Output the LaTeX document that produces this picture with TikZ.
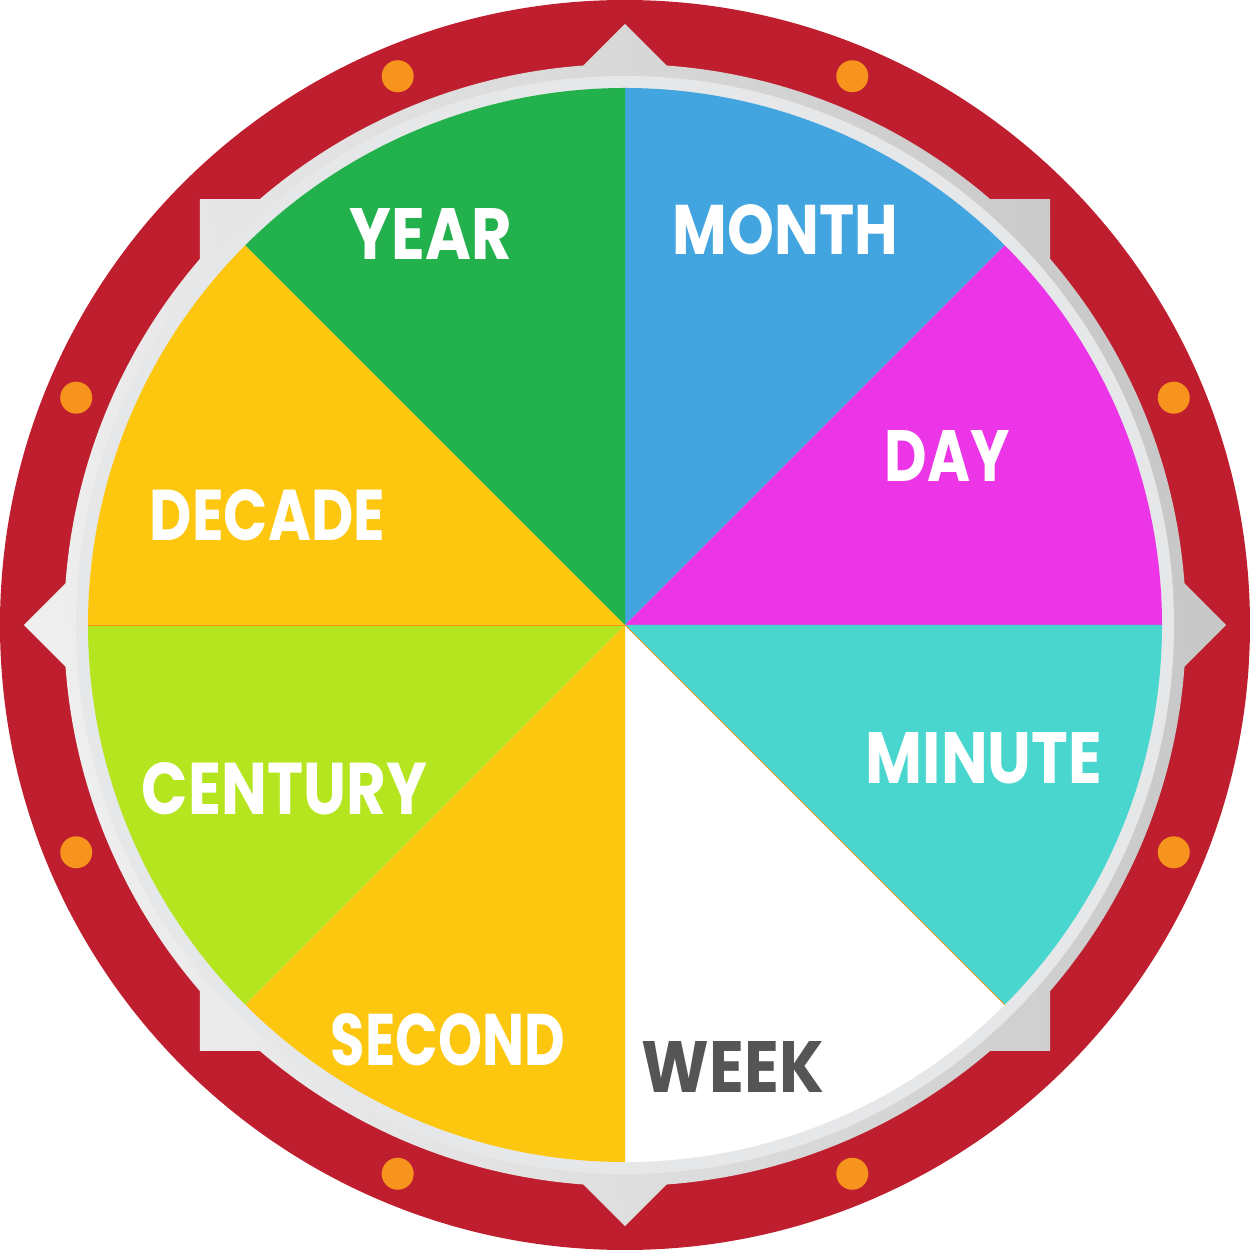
\documentclass[tikz,border=0pt]{standalone}
\usepackage{fontspec}
\setmainfont{Poppins}
\usepackage{graphicx}
\definecolor{ringred}{HTML}{BE1E2D}
\definecolor{dotorange}{HTML}{F7941D}
\definecolor{ringlight}{HTML}{F0F0F0}
\definecolor{ringdark}{HTML}{C6C6C6}
\definecolor{bandgrey}{HTML}{E6E7E9}
\definecolor{cmonth}{HTML}{42A5E0}
\definecolor{cday}{HTML}{EB35E6}
\definecolor{cminute}{HTML}{48D6CE}
\definecolor{cweek}{HTML}{FFFFFF}
\definecolor{csecond}{HTML}{FDC70F}
\definecolor{ccentury}{HTML}{B5E51E}
\definecolor{cdecade}{HTML}{FDC70F}
\definecolor{cyear}{HTML}{23B14D}
\definecolor{weektext}{HTML}{555555}
\newcommand{\lbl}[3]{\resizebox{#1\pxunit}{#2\pxunit}{\bfseries #3}}
\newlength{\pxunit}
\setlength{\pxunit}{0.02cm}
\begin{document}
\begin{tikzpicture}[x=0.02cm,y=0.02cm,
  ringpart/.style={path picture={\shade[left color=ringlight,right color=ringdark,shading angle=100] (-625,-625) rectangle (625,625);}},
  sector/.style={fill=#1},
  wlabel/.style={inner sep=0pt,text=white},
  dot/.style={fill=dotorange}]
\useasboundingbox (-625,-625) rectangle (625,625);
% red outer ring
\fill[ringred] (0,0) circle[radius=625];
% orange dots
\foreach \a in {22.5,67.5,...,337.5}
  \fill[dot] (\a:594) circle[radius=16];
% square notches
\foreach \sx/\sy in {1/1,-1/1,-1/-1,1/-1}
  \path[ringpart] (425*\sx,425*\sy) rectangle (315*\sx,315*\sy);
% diamond notches
\foreach \r in {0,90,180,270}
  \path[ringpart,rotate=\r] (0,601) -- (52,549) -- (-52,549) -- cycle;
% grey ring
\path[ringpart] (0,0) circle[radius=561];
\fill[bandgrey] (0,0) circle[radius=549];
% sectors
\fill[sector=cmonth]   (0,0) -- (90:537)  arc[start angle=90,end angle=45,radius=537] -- cycle;
\fill[sector=cday]     (0,0) -- (45:537)  arc[start angle=45,end angle=0,radius=537] -- cycle;
\fill[sector=cminute]  (0,0) -- (0:537)   arc[start angle=0,end angle=-45,radius=537] -- cycle;
\fill[sector=cweek]    (0,0) -- (-45:537) arc[start angle=-45,end angle=-90,radius=537] -- cycle;
\fill[sector=csecond]  (0,0) -- (-90:537) arc[start angle=-90,end angle=-135,radius=537] -- cycle;
\fill[sector=ccentury] (0,0) -- (-135:537) arc[start angle=-135,end angle=-180,radius=537] -- cycle;
\fill[sector=cdecade]  (0,0) -- (180:537) arc[start angle=180,end angle=135,radius=537] -- cycle;
\fill[sector=cyear]    (0,0) -- (135:537) arc[start angle=135,end angle=90,radius=537] -- cycle;
\draw[dotorange,line width=0.5pt] (0,0) -- (180:537);
\draw[dotorange,line width=0.5pt] (0,0) -- (-45:537);
% labels
\node[wlabel] (year)    at (-194,390.5)  {\lbl{162}{51}{YEAR}};
\node[wlabel] (month)   at (160.5,395)   {\lbl{225}{50}{MONTH}};
\node[wlabel] (day)     at (322.5,169)   {\lbl{125}{51}{DAY}};
\node[wlabel] (decade)  at (-357.5,110)  {\lbl{235}{51}{DECADE}};
\node[wlabel] (minute)  at (359,-133.5)  {\lbl{236}{51}{MINUTE}};
\node[wlabel] (century) at (-340.5,-164) {\lbl{285}{52}{CENTURY}};
\node[wlabel] (second)  at (-177,-414.5) {\lbl{234}{52}{SECOND}};
\node[wlabel,text=weektext] (week) at (108,-441.5) {\lbl{182}{51}{WEEK}};
\end{tikzpicture}
\end{document}
